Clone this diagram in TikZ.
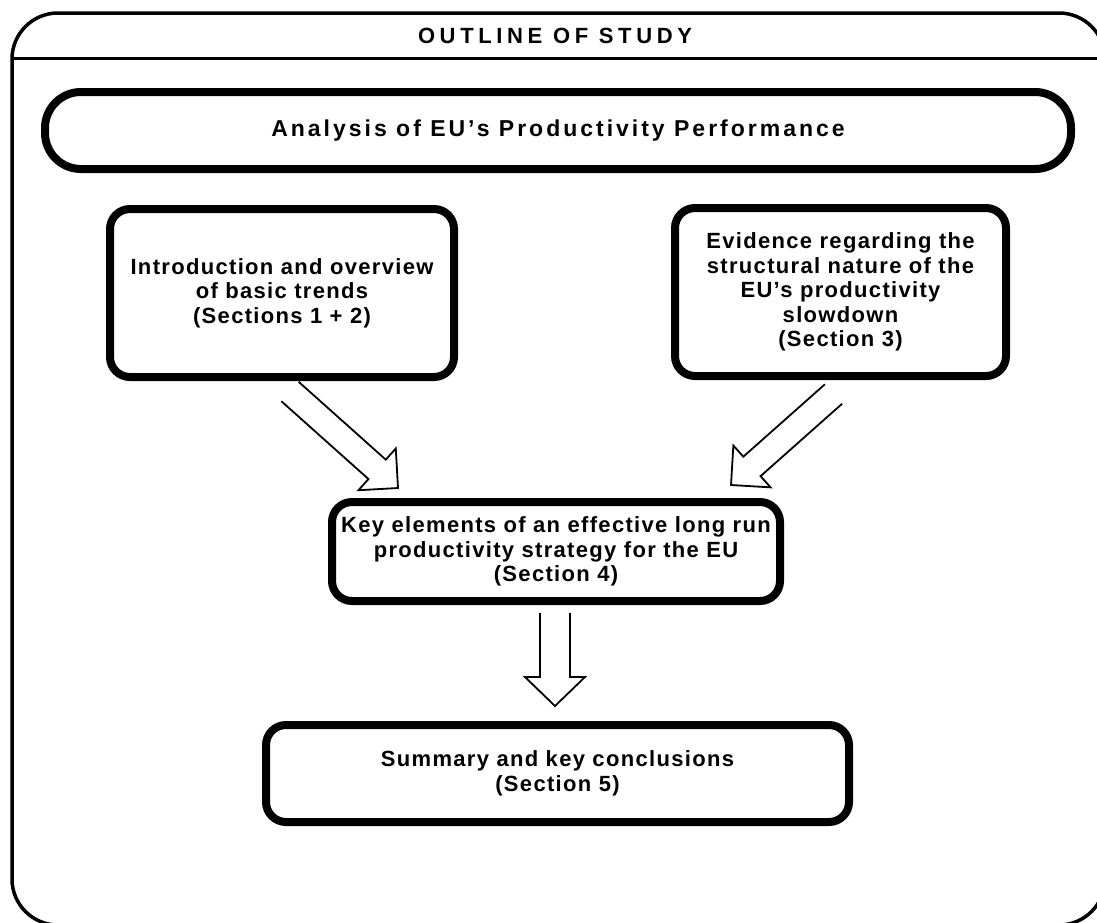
\documentclass[tikz,border=0pt]{standalone}
\usepackage{fontspec}
\setmainfont{Liberation Sans}
\newfontfamily\trackedfont{Liberation Sans}[LetterSpace=6]
\newfontfamily\titlefont{Liberation Sans}[LetterSpace=13]
\newfontfamily\headfont{Liberation Sans}[LetterSpace=21]
\usetikzlibrary{calc}

\tikzset{
  frameline/.style={line width=3.5pt},
  box/.style={draw, line width=8pt, rounded corners=20pt, align=center,
    inner sep=0pt, font=\trackedfont\bfseries\fontsize{22}{24.5}\selectfont},
  titlebox/.style={box, rounded corners=36pt,
    font=\titlefont\bfseries\fontsize{23}{26}\selectfont},
  headtext/.style={font=\headfont\bfseries\fontsize{22}{24}\selectfont},
  arrowline/.style={line width=1.8pt, line join=miter},
}

% hollow block arrow: from, to, shaft half width, head half width, head length
\newcommand\hollowarrow[5]{%
  \coordinate (#1-#2-base) at ($(#2)!#5!(#1)$);
  \draw[arrowline]
    ($(#1)!#3!90:(#2)$) -- ($(#1-#2-base)!#3!90:(#2)$)
    -- ($(#1-#2-base)!#4!90:(#2)$) -- (#2)
    -- ($(#1-#2-base)!#4!-90:(#2)$) -- ($(#1-#2-base)!#3!-90:(#2)$)
    -- ($(#1)!#3!-90:(#2)$);
}

\begin{document}
\begin{tikzpicture}[x=1pt, y=-1pt]
  \useasboundingbox (0,0) rectangle (1097,922);
  \clip (0,0) rectangle (1097,922);

  % outer frame with its header band
  \draw[frameline, rounded corners=46pt] (12,13) rectangle (1105,925);
  \draw[frameline] (12,58.5) -- (1105,58.5);
  \node[headtext] (header) at (555,35.5) {OUTLINE OF STUDY};

  % boxes
  \node[titlebox, minimum width=1026pt, minimum height=77pt] (analysis)
    at (558,130.5) {Analysis of EU’s Productivity Performance};
  \node[box, minimum width=344pt, minimum height=168pt] (intro)
    at (282,293) {Introduction and overview\\of basic trends\\(Sections 1 + 2)};
  \node[box, minimum width=331pt, minimum height=168pt] (evidence)
    at (840.5,292) {Evidence regarding the\\structural nature of the\\EU’s productivity\\slowdown\\(Section 3)};
  \node[box, minimum width=448pt, minimum height=99pt] (strategy)
    at (556,551.5) {Key elements of an effective long run\\productivity strategy for the EU\\(Section 4)};
  \node[box, minimum width=583pt, minimum height=97pt] (summary)
    at (557.5,773.5) {Summary and key conclusions\\(Section 5)};

  % arrow end points
  \coordinate (introOut) at (290,391.5);
  \coordinate (stratInL) at (398,488);
  \coordinate (evidOut) at (833.5,394);
  \coordinate (stratInR) at (731,485);
  \coordinate (stratOut) at (555,613);
  \coordinate (summIn) at (555,706);

  \hollowarrow{introOut}{stratInL}{13pt}{28pt}{28pt}
  \hollowarrow{evidOut}{stratInR}{13pt}{28pt}{28pt}
  \hollowarrow{stratOut}{summIn}{15pt}{30pt}{29pt}
\end{tikzpicture}
\end{document}
